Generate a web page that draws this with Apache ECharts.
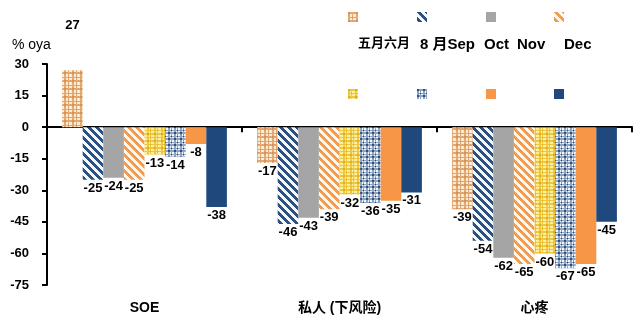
<!DOCTYPE html>
<html>
<head>
<meta charset="utf-8">
<script src="https://cdn.jsdelivr.net/npm/echarts@6/dist/echarts.min.js"></script>
<style>
  html, body { margin: 0; padding: 0; background: #fff; }
  #main { width: 640px; height: 320px; }
</style>
</head>
<body>
<div id="main"></div>
<script>
// data
var categories = ['SOE', '私人 (下风险)', '心疼']
var seriesNames = ['四月', '五月', '六月', '8月', 'Sep', 'Oct', 'Nov', 'Dec']
var s1 = [27, -17, -39]
var s2 = [-25, -46, -54]
var s3 = [-24, -43, -62]
var s4 = [-25, -39, -65]
var s5 = [-13, -32, -60]
var s6 = [-14, -36, -67]
var s7 = [-8, -35, -65]
var s8 = [-38, -31, -45]
var yTicks = [-75, -60, -45, -30, -15, 0, 15, 30]
// legend header text pieces, as printed in the picture
var legendWords = ['五月六月', '8 月Sep', 'Oct', 'Nov', 'Dec']
var legendWordX = [358, 420, 484, 517, 564]

var FONT = '"Liberation Sans Narrow", "Liberation Sans", "Noto Sans CJK SC", sans-serif'

// small canvas patterns
function plaid(bg, line, dark, n) {
  var c = document.createElement('canvas')
  c.width = n; c.height = n
  var g = c.getContext('2d')
  g.fillStyle = bg; g.fillRect(0, 0, n, n)
  g.fillStyle = line
  g.fillRect(0, 0, 2, n)
  g.fillRect(Math.floor(n / 2), 0, 1, n)
  g.fillRect(0, 0, n, 2)
  g.fillRect(0, Math.floor(n / 2) + 1, n, 1)
  if (dark) {
    g.fillStyle = dark
    g.fillRect(0, 0, 2, 2)
    g.fillRect(Math.floor(n / 2), Math.floor(n / 2) + 1, 1, 1)
  }
  return c
}
function diag(bg, line) {
  var n = 8
  var c = document.createElement('canvas')
  c.width = n; c.height = n
  var g = c.getContext('2d')
  g.fillStyle = bg; g.fillRect(0, 0, n, n)
  g.fillStyle = line
  for (var y = 0; y < n; y++) {
    for (var k = 0; k < 4; k++) {
      g.fillRect((y + k) % n, y, 1, 1)
    }
  }
  return c
}

var fills = [
  { image: plaid('#fdebd5', '#e3a871', '#d99050', 8), repeat: 'repeat' },
  { image: diag('#f4f7fb', '#2b5082'), repeat: 'repeat' },
  '#a5a5a5',
  { image: diag('#fff8f0', '#f29c50'), repeat: 'repeat' },
  { image: plaid('#fdf0a2', '#efc640', '#e0b020', 7), repeat: 'repeat' },
  { image: plaid('#f4f8fd', '#8ea3c0', '#2f4f7c', 6), repeat: 'repeat' },
  '#f79646',
  '#1f497d'
]
var values = [s1, s2, s3, s4, s5, s6, s7, s8]

var labelStyle = {
  show: true,
  position: 'bottom',
  distance: 2,
  color: '#000',
  fontFamily: FONT,
  fontWeight: 'bold',
  fontSize: 13
}

var series = values.map(function (vals, i) {
  return {
    name: seriesNames[i],
    type: 'bar',
    barWidth: 20.6,
    barGap: '0%',
    itemStyle: { color: fills[i] },
    label: labelStyle,
    data: vals.map(function (v) {
      if (v > 0) {
        return { value: v, label: { position: 'top', distance: 38 } }
      }
      return v
    })
  }
})

// legend icons, two rows of four, no text
var iconX = [343, 412, 481, 549]
var legends = seriesNames.map(function (n, i) {
  return {
    left: iconX[i % 4],
    top: i < 4 ? 7 : 84,
    itemWidth: 10,
    itemHeight: 10,
    icon: 'rect',
    formatter: function () { return '' },
    data: [n],
    selectedMode: false
  }
})

var graphics = [
  {
    type: 'text',
    left: 12,
    top: 38,
    style: { text: '% oya', fill: '#000', font: '14px ' + FONT }
  }
]
legendWords.forEach(function (w, i) {
  graphics.push({
    type: 'text',
    left: legendWordX[i],
    top: 37,
    style: { text: w, fill: '#000', font: 'bold ' + (i === 0 ? 13 : 15) + 'px ' + FONT }
  })
})

var myChart = echarts.init(document.getElementById('main'))
myChart.setOption({
  animation: false,
  backgroundColor: '#fff',
  legend: legends,
  grid: { left: 47, right: 8, top: 64, bottom: 35 },
  xAxis: [
    {
      type: 'category',
      data: categories,
      axisLine: { onZero: true, lineStyle: { color: '#000', width: 2 } },
      axisTick: { show: true, length: 5, lineStyle: { color: '#000', width: 2 } },
      axisLabel: { show: false }
    },
    {
      type: 'category',
      data: categories,
      position: 'bottom',
      axisLine: { show: false, onZero: false },
      axisTick: { show: false },
      axisLabel: {
        margin: 16,
        color: '#000',
        fontFamily: FONT,
        fontWeight: 'bold',
        fontSize: 14
      }
    }
  ],
  yAxis: {
    type: 'value',
    min: yTicks[0],
    max: yTicks[yTicks.length - 1],
    interval: 15,
    splitLine: { show: false },
    axisLine: { show: true, lineStyle: { color: '#000', width: 2 } },
    axisTick: { show: true, length: 5, lineStyle: { color: '#000', width: 2 } },
    axisLabel: {
      margin: 18,
      color: '#000',
      fontFamily: FONT,
      fontWeight: 'bold',
      fontSize: 13
    }
  },
  graphic: graphics,
  series: series
})
</script>
</body>
</html>
